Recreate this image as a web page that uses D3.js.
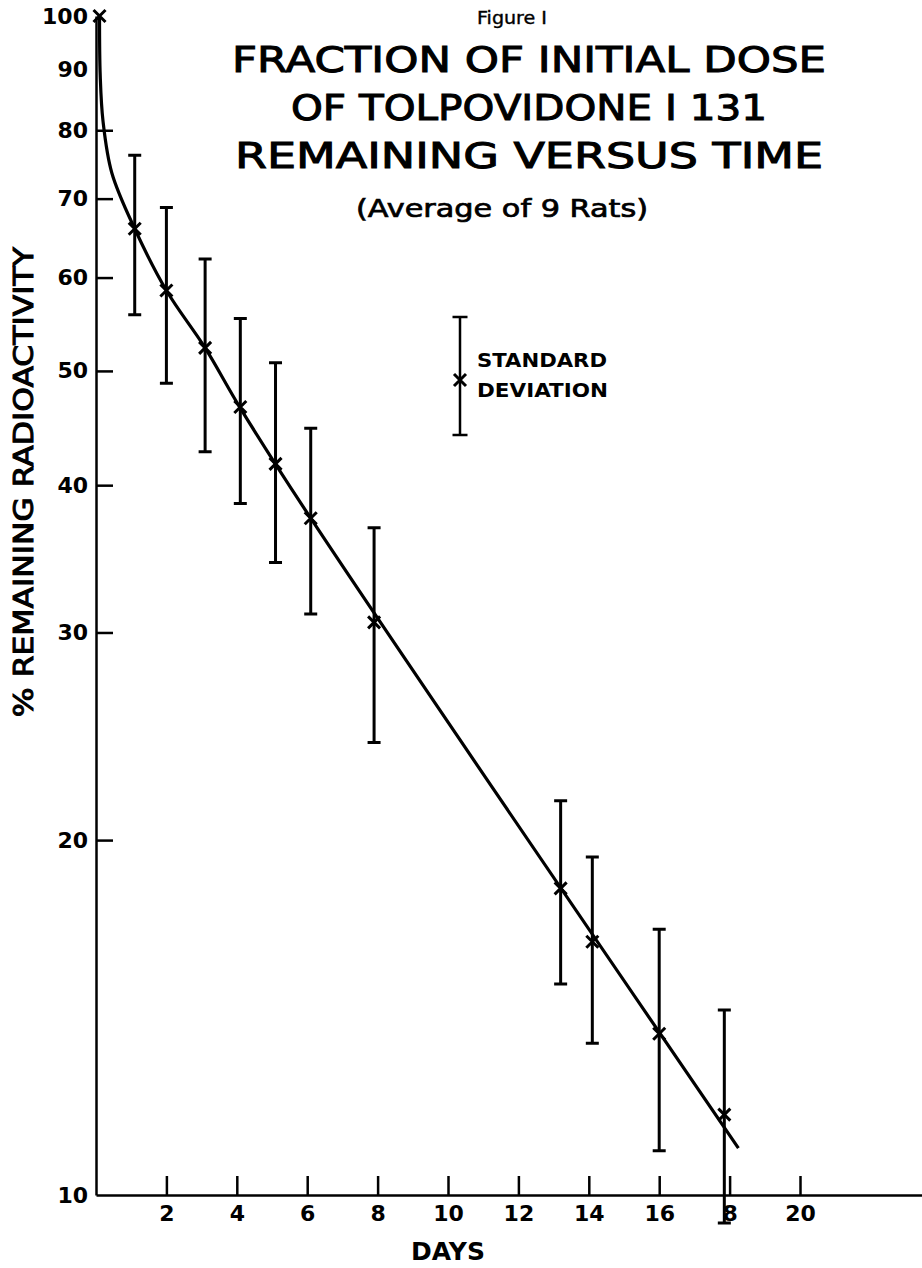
<!DOCTYPE html>
<html>
<head>
<meta charset="utf-8">
<script src="https://cdn.jsdelivr.net/npm/d3@7"></script>
<style>
  body { margin: 0; background: #fff; }
  svg { display: block; font-family: "DejaVu Sans", sans-serif; font-weight: bold; }
  .axis path, .axis line { stroke: #000; stroke-width: 2.5; }
  .axis text { fill: #000; font-size: 22px; font-weight: bold; font-family: "DejaVu Sans", sans-serif; }
  .title { font-weight: normal; stroke: #000; stroke-width: 1; }
</style>
</head>
<body>
<svg id="chart"></svg>
<script>
// measured points (days after dose, % remaining radioactivity)
const days    = [0.1, 1.1, 2.0, 3.1, 4.1, 5.1, 6.1, 7.9, 13.2, 14.1, 16.0, 17.85];
const meanPct = [100, 66, 58.5, 52.3, 46.6, 41.7, 37.5, 30.6, 18.2, 16.4, 13.7, 11.7];
const sdHigh  = [null, 76.2, 68.8, 62.2, 55.4, 50.8, 44.7, 36.8, 21.6, 19.35, 16.8, 14.35];
const sdLow   = [null, 55.8, 48.8, 42.7, 38.6, 34.4, 31.1, 24.2, 15.1, 13.45, 10.9, 9.47];

// hand-drawn fit curve
const fitDays = [0.1, 0.12, 0.2, 0.45, 1.1, 2.0, 3.1, 4.1, 6.1, 18.25];
const fitPct  = [100, 89, 81.4, 73.6, 66, 58.5, 52.3, 46.5, 37.5, 10.96];

const xTicks = [2, 4, 6, 8, 10, 12, 14, 16, 18, 20];
const xTickLabels = ['2', '4', '6', '8', '10', '12', '14', '16', '8', '20'];
const yTicks = [10, 20, 30, 40, 50, 60, 70, 80, 90, 100];

const titleLines = ['FRACTION OF INITIAL DOSE', 'OF TOLPOVIDONE I 131', 'REMAINING VERSUS TIME'];

const width = 922, height = 1268;

const svg = d3.select('#chart')
    .attr('width', width)
    .attr('height', height);

// scales
const x = d3.scaleLinear().domain([0, (width - 96) / 35.2]).range([96, width]);
const y = d3.scaleLog().domain([10, 100]).range([1195, 16]);

// x axis, ticks pointing up
const xAxis = d3.axisBottom(x)
    .tickValues(xTicks)
    .tickFormat((d, i) => xTickLabels[i])
    .tickSize(-19)
    .tickSizeOuter(0)
    .tickPadding(10);

svg.append('g')
    .attr('class', 'axis x-axis')
    .attr('transform', `translate(0,${y(10)})`)
    .call(xAxis);

// y axis, ticks pointing right
const yAxis = d3.axisLeft(y)
    .tickValues(yTicks)
    .tickFormat(d3.format('d'))
    .tickSize(-17)
    .tickSizeOuter(0)
    .tickPadding(8);

const yAxisG = svg.append('g')
    .attr('class', 'axis y-axis')
    .attr('transform', `translate(${x(0)},0)`)
    .call(yAxis);
yAxisG.selectAll('.tick line')
    .filter(d => d === 10 || d === 90 || d === 100)
    .remove();

// axis titles
svg.append('text')
    .attr('x', x(10))
    .attr('y', 1260)
    .attr('text-anchor', 'middle')
    .style('font-size', '25px')
    .text('DAYS');

svg.append('text')
    .attr('class', 'title')
    .attr('transform', `translate(33,${y(40) - 3}) rotate(-90)`)
    .attr('text-anchor', 'middle')
    .attr('textLength', 470)
    .attr('lengthAdjust', 'spacingAndGlyphs')
    .style('font-size', '26px')
    .text('% REMAINING RADIOACTIVITY');

// titles
svg.append('text')
    .attr('class', 'title')
    .attr('x', 512).attr('y', 24)
    .attr('text-anchor', 'middle')
    .attr('textLength', 70)
    .attr('lengthAdjust', 'spacingAndGlyphs')
    .style('font-size', '18px')
    .style('stroke-width', 0.4)
    .text('Figure I');

const titleY = [72, 120, 168];
const titleW = [594, 476, 588];
titleLines.forEach((t, i) => {
    svg.append('text')
        .attr('class', 'title')
        .attr('x', 529).attr('y', titleY[i])
        .attr('text-anchor', 'middle')
        .attr('textLength', titleW[i])
        .attr('lengthAdjust', 'spacingAndGlyphs')
        .style('font-size', '35px')
        .text(t);
});

svg.append('text')
    .attr('class', 'title')
    .attr('x', 502).attr('y', 217)
    .attr('text-anchor', 'middle')
    .attr('textLength', 292)
    .attr('lengthAdjust', 'spacingAndGlyphs')
    .style('font-size', '24px')
    .style('stroke-width', 0.7)
    .text('(Average of 9 Rats)');

// fit curve
const fitData = fitDays.map((d, i) => ({day: d, pct: fitPct[i]}));
const line = d3.line()
    .x(d => x(d.day))
    .y(d => y(d.pct))
    .curve(d3.curveCatmullRom.alpha(0.5));

svg.append('path')
    .datum(fitData)
    .attr('d', line)
    .attr('fill', 'none')
    .attr('stroke', '#000')
    .attr('stroke-width', 3.2);

// error bars + markers
const pts = days.map((d, i) => ({day: d, pct: meanPct[i], hi: sdHigh[i], lo: sdLow[i]}));
const capW = 6.5;

const bars = svg.append('g')
    .attr('stroke', '#000')
    .attr('stroke-width', 3)
    .attr('fill', 'none');

bars.selectAll('.err')
    .data(pts.filter(d => d.hi !== null))
    .join('path')
        .attr('class', 'err')
        .attr('d', d => {
            const cx = x(d.day), t = y(d.hi), b = y(d.lo);
            return `M${cx},${t}V${b}M${cx - capW},${t}H${cx + capW}M${cx - capW},${b}H${cx + capW}`;
        });

const mk = 6;
bars.selectAll('.mark')
    .data(pts)
    .join('path')
        .attr('class', 'mark')
        .attr('stroke-width', 3)
        .attr('d', d => {
            const cx = x(d.day), cy = y(d.pct);
            return `M${cx - mk},${cy - mk}L${cx + mk},${cy + mk}M${cx - mk},${cy + mk}L${cx + mk},${cy - mk}`;
        });

// legend
const lg = svg.append('g').attr('transform', 'translate(460,0)');
lg.append('path')
    .attr('d', `M0,317V435M${-capW - 1},317H${capW + 1}M${-capW - 1},435H${capW + 1}`)
    .attr('stroke', '#000').attr('stroke-width', 2.5).attr('fill', 'none');
lg.append('path')
    .attr('d', `M${-mk},${380 - mk}L${mk},${380 + mk}M${-mk},${380 + mk}L${mk},${380 - mk}`)
    .attr('stroke', '#000').attr('stroke-width', 3).attr('fill', 'none');
lg.append('text')
    .attr('x', 17).attr('y', 367)
    .attr('textLength', 130).attr('lengthAdjust', 'spacingAndGlyphs')
    .style('font-size', '20px')
    .text('STANDARD');
lg.append('text')
    .attr('x', 17).attr('y', 397)
    .attr('textLength', 131).attr('lengthAdjust', 'spacingAndGlyphs')
    .style('font-size', '20px')
    .text('DEVIATION');
</script>
</body>
</html>
